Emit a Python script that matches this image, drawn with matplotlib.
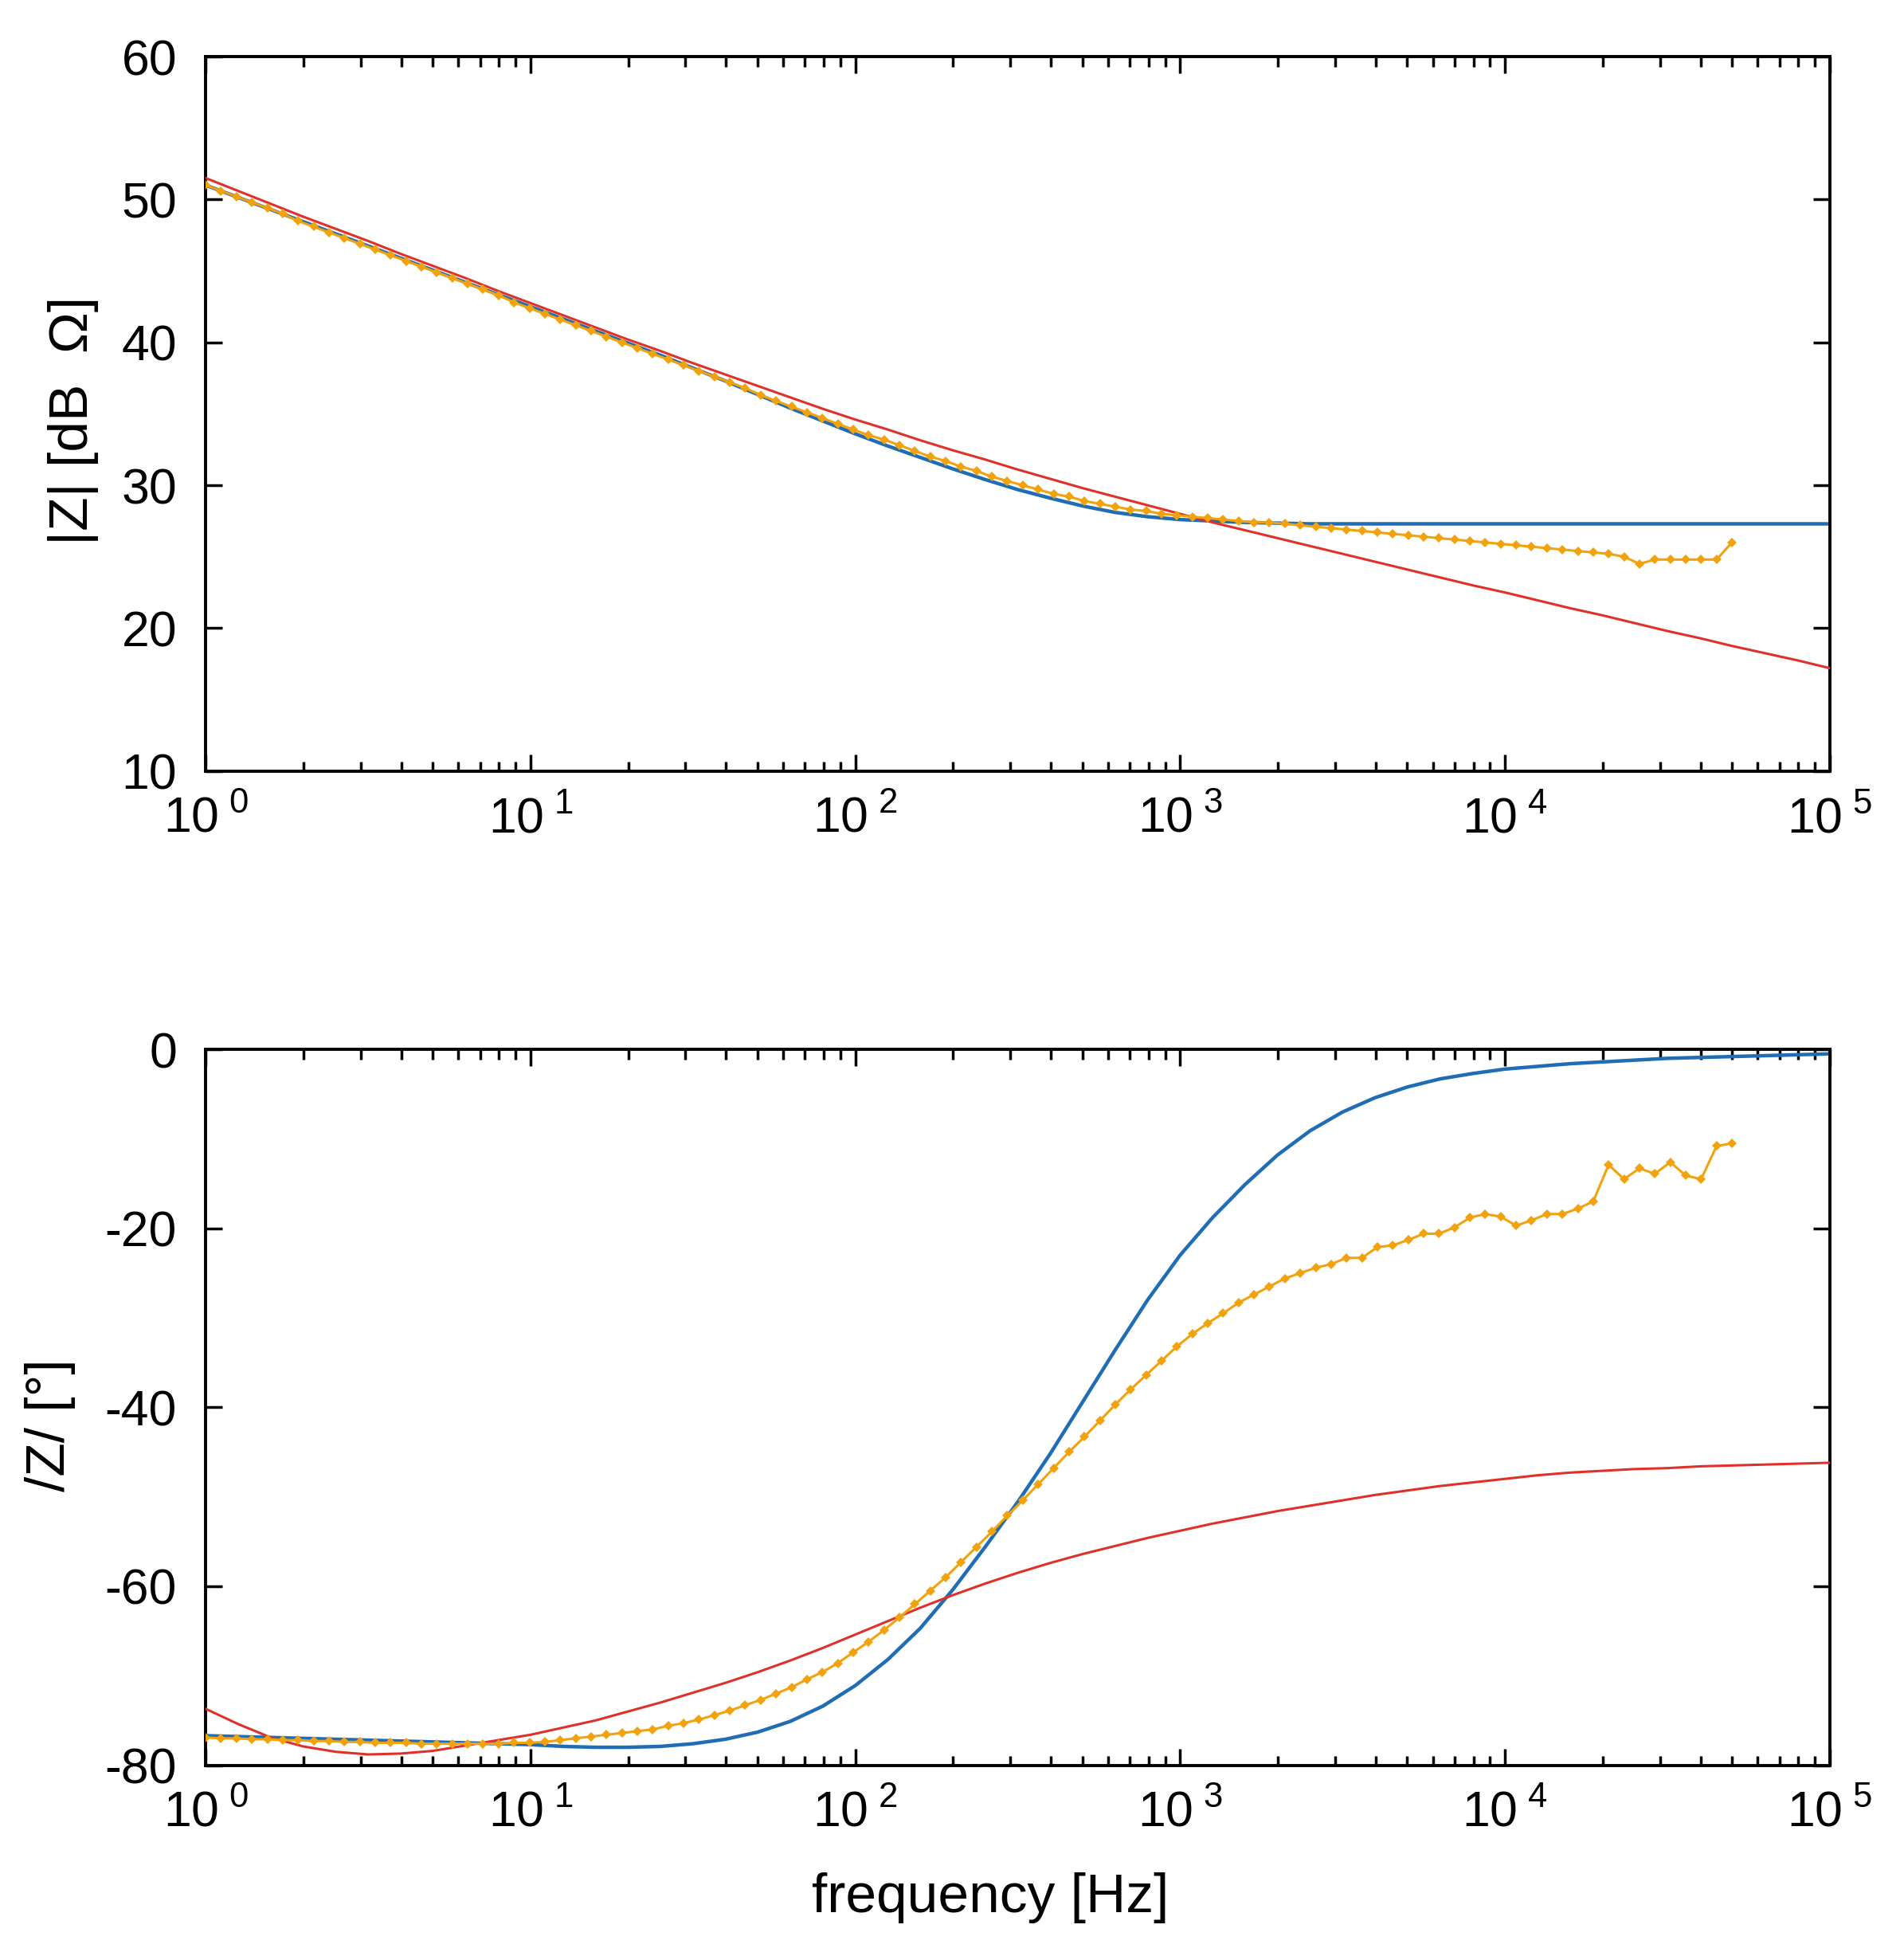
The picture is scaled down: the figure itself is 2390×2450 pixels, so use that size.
import numpy as np
import matplotlib
matplotlib.use("Agg")
import matplotlib.pyplot as plt
from matplotlib.ticker import LogLocator, NullFormatter

plt.rcParams['font.family'] = ['Liberation Sans', 'DejaVu Sans']
plt.rcParams['mathtext.fontset'] = 'custom'
plt.rcParams['mathtext.rm'] = 'Liberation Sans'
plt.rcParams['mathtext.it'] = 'Liberation Sans:italic'
plt.rcParams['axes.unicode_minus'] = False

# fitted model curves, sampled every 0.1 decade from 1 Hz to 100 kHz
f_fit = np.logspace(0, 5, 51)
mag_blue = [51.0, 50.15, 49.3, 48.45, 47.6, 46.75, 45.9, 45.05, 44.2, 43.35,
            42.5, 41.65, 40.8, 39.95, 39.1, 38.2, 37.3, 36.35, 35.4, 34.5,
            33.6, 32.75, 31.95, 31.15, 30.4, 29.7, 29.1, 28.55, 28.1, 27.8,
            27.6, 27.5, 27.4, 27.35, 27.3, 27.3, 27.3, 27.3, 27.3, 27.3,
            27.3, 27.3, 27.3, 27.3, 27.3, 27.3, 27.3, 27.3, 27.3, 27.3, 27.3]
mag_red = [51.5, 50.6, 49.7, 48.8, 47.95, 47.1, 46.2, 45.35, 44.5, 43.6,
           42.75, 41.9, 41.05, 40.2, 39.4, 38.55, 37.75, 36.95, 36.15, 35.35,
           34.6, 33.9, 33.15, 32.45, 31.8, 31.1, 30.45, 29.8, 29.2, 28.6,
           28.0, 27.4, 26.85, 26.3, 25.75, 25.2, 24.65, 24.1, 23.55, 23.0,
           22.5, 21.95, 21.4, 20.9, 20.35, 19.8, 19.3, 18.75, 18.25, 17.75, 17.2]
ph_blue = [-76.7, -76.8, -76.9, -77.0, -77.1, -77.2, -77.3, -77.4, -77.5, -77.6,
           -77.7, -77.9, -78.0, -78.0, -77.9, -77.6, -77.1, -76.3, -75.1, -73.4,
           -71.1, -68.2, -64.7, -60.4, -55.6, -50.6, -45.2, -39.4, -33.6, -28.0,
           -23.0, -18.8, -15.1, -11.8, -9.1, -7.0, -5.4, -4.2, -3.3, -2.7,
           -2.2, -1.9, -1.6, -1.4, -1.2, -1.0, -0.9, -0.8, -0.7, -0.6, -0.5]
ph_red = [-73.7, -75.4, -76.9, -77.9, -78.5, -78.8, -78.7, -78.4, -77.8, -77.2,
          -76.6, -75.8, -75.0, -74.0, -73.0, -71.9, -70.8, -69.6, -68.3, -66.9,
          -65.4, -63.9, -62.4, -61.0, -59.7, -58.5, -57.4, -56.4, -55.5, -54.6,
          -53.8, -53.0, -52.3, -51.6, -51.0, -50.4, -49.8, -49.3, -48.8, -48.4,
          -48.0, -47.6, -47.3, -47.1, -46.9, -46.8, -46.6, -46.5, -46.4, -46.3, -46.2]

# measured points, 100 log spaced frequencies 1 Hz .. 50 kHz
f_meas = np.logspace(0, np.log10(5e4), 100)
mag_meas = [51.0, 50.6, 50.2, 49.8, 49.4, 49.0, 48.5, 48.1, 47.7, 47.3,
            46.9, 46.5, 46.1, 45.7, 45.3, 44.9, 44.5, 44.1, 43.7, 43.3,
            42.8, 42.4, 42.0, 41.6, 41.2, 40.8, 40.4, 40.0, 39.6, 39.2,
            38.8, 38.4, 38.0, 37.6, 37.2, 36.8, 36.3, 35.9, 35.5, 35.1,
            34.7, 34.3, 33.9, 33.5, 33.2, 32.8, 32.4, 32.0, 31.7, 31.3,
            31.0, 30.6, 30.3, 30.0, 29.7, 29.4, 29.2, 28.9, 28.7, 28.5,
            28.3, 28.2, 28.0, 27.9, 27.8, 27.7, 27.6, 27.5, 27.4, 27.4,
            27.3, 27.2, 27.1, 27.0, 26.9, 26.8, 26.7, 26.6, 26.5, 26.4,
            26.3, 26.2, 26.1, 26.0, 25.9, 25.8, 25.7, 25.6, 25.5, 25.4,
            25.3, 25.2, 25.0, 24.5, 24.8, 24.8, 24.8, 24.8, 24.8, 26.0]
ph_meas = [-76.9, -77.0, -77.0, -77.1, -77.1, -77.2, -77.2, -77.3, -77.3, -77.4,
           -77.4, -77.5, -77.5, -77.5, -77.6, -77.6, -77.6, -77.6, -77.6, -77.6,
           -77.5, -77.5, -77.4, -77.2, -77.0, -76.8, -76.6, -76.4, -76.2, -76.0,
           -75.6, -75.3, -74.9, -74.4, -73.9, -73.3, -72.7, -72.0, -71.3, -70.4,
           -69.6, -68.6, -67.4, -66.2, -64.9, -63.5, -62.0, -60.5, -59.0, -57.3,
           -55.6, -53.9, -52.1, -50.4, -48.6, -46.8, -45.0, -43.3, -41.5, -39.7,
           -38.0, -36.4, -34.8, -33.2, -31.8, -30.6, -29.5, -28.3, -27.4, -26.5,
           -25.6, -25.0, -24.4, -24.0, -23.3, -23.3, -22.1, -21.9, -21.3, -20.6,
           -20.6, -19.9, -18.8, -18.4, -18.7, -19.7, -19.1, -18.4, -18.4, -17.8,
           -17.0, -12.9, -14.5, -13.3, -13.9, -12.6, -14.1, -14.5, -10.8, -10.5]

xtick_vals = [1, 10, 100, 1000, 10000, 100000]
xtick_labels = [r'$\mathregular{10^{\ %d}}$' % k for k in range(6)]

c_blue = '#1f6db4'
c_red = '#e0302a'
c_orange = '#f2a20c'

fig = plt.figure(figsize=(23.9, 24.5), dpi=100)
ax1 = fig.add_axes([0.108, 0.605, 0.853, 0.366])
ax2 = fig.add_axes([0.108, 0.0957, 0.853, 0.3667])

for ax, yb, yr, ym in [(ax1, mag_blue, mag_red, mag_meas),
                       (ax2, ph_blue, ph_red, ph_meas)]:
    ax.plot(f_fit, yb, color=c_blue, lw=3.2, zorder=2)
    ax.plot(f_fit, yr, color=c_red, lw=2.2, zorder=3)
    ax.plot(f_meas, ym, color=c_orange, lw=2.2, marker='D', ms=6,
            markeredgewidth=0, zorder=4)
    ax.set_xscale('log')
    ax.set_xlim(1, 1e5)
    ax.set_xticks(xtick_vals)
    ax.set_xticklabels(xtick_labels)
    ax.xaxis.set_minor_locator(LogLocator(base=10, subs=np.arange(2, 10)))
    ax.xaxis.set_minor_formatter(NullFormatter())
    ax.tick_params(which='both', direction='in', top=True, right=True,
                   width=2.5, color='black')
    ax.tick_params(which='major', length=15, labelsize=45)
    ax.tick_params(which='minor', length=9)
    ax.tick_params(axis='x', pad=22)
    ax.tick_params(axis='y', pad=26)
    for s in ax.spines.values():
        s.set_linewidth(2.8)

ax1.set_ylim(10, 60)
ax1.set_yticks([10, 20, 30, 40, 50, 60])
ax2.set_ylim(-80, 0)
ax2.set_yticks([-80, -60, -40, -20, 0])

ax1.set_ylabel('|Z| [dB  Ω]', fontsize=50)
ax1.yaxis.set_label_coords(-0.066, 0.49)
ax2.set_ylabel('/Z/ [°]', fontsize=50)
ax2.yaxis.set_label_coords(-0.08, 0.475)
ax2.set_xlabel('frequency [Hz]', fontsize=50)
ax2.xaxis.set_label_coords(0.483, -0.15)

fig.savefig('out.png', dpi=100)
